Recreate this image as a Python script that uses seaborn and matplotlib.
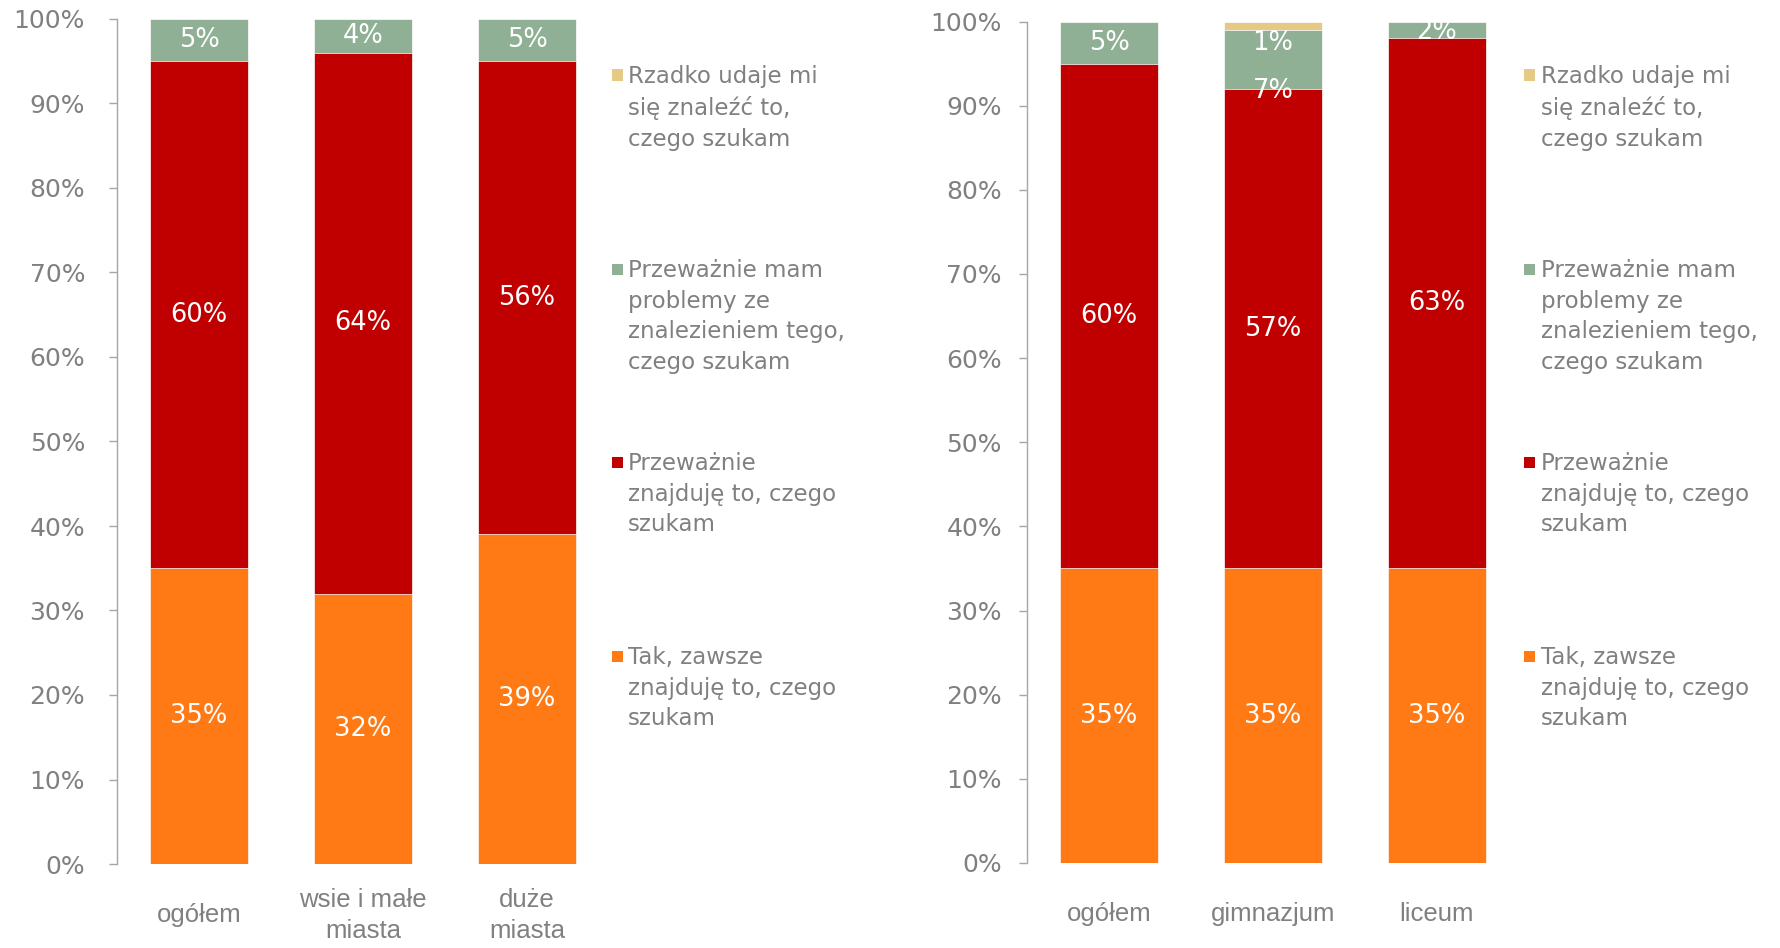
import matplotlib
matplotlib.use('Agg')
import matplotlib.pyplot as plt
from matplotlib.patches import Rectangle
import numpy as np
import pandas as pd
import seaborn as sns

# --- data -------------------------------------------------------------
series_names = [
    'Tak, zawsze\nznajduję to, czego\nszukam',
    'Przeważnie\nznajduję to, czego\nszukam',
    'Przeważnie mam\nproblemy ze\nznalezieniem tego,\nczego szukam',
    'Rzadko udaje mi\nsię znaleźć to,\nczego szukam',
]
series_colors = ['#FF7A15', '#C00000', '#8FB095', '#E5CA85']

left_categories = ['ogółem', 'wsie i małe\nmiasta', 'duże\nmiasta']
left_tak = [35, 32, 39]
left_znajduje = [60, 64, 56]
left_problemy = [5, 4, 5]
left_rzadko = [0, 0, 0]

right_categories = ['ogółem', 'gimnazjum', 'liceum']
right_tak = [35, 35, 35]
right_znajduje = [60, 57, 63]
right_problemy = [5, 7, 2]
right_rzadko = [0, 1, 0]

# label nudges (category index, layer index) -> shift in percentage points
right_label_nudge = {(1, 2): -3.7, (1, 3): -2.1, (2, 2): -0.3}

GRAY = '#808080'
AXIS_GRAY = '#A6A6A6'

sns.set_style('white')
plt.rcParams['font.family'] = ['DejaVu Sans']


def draw_panel(ax, categories, layers, tick_pad, nudge=None):
    nudge = nudge or {}
    cums = np.cumsum(np.array(layers, dtype=float), axis=0)
    # draw from the tallest cumulative layer down, lower segments cover upper
    for i in reversed(range(len(layers))):
        df = pd.DataFrame({'cat': categories, 'h': cums[i] / 100})
        sns.barplot(data=df, x='cat', y='h', order=categories,
                    color=series_colors[i], saturation=1, width=0.6,
                    errorbar=None, edgecolor='white', linewidth=0.5, ax=ax)

    # value labels in segment centres
    for i, vals in enumerate(layers):
        for j, v in enumerate(vals):
            if v <= 0:
                continue
            y = (cums[i][j] - v / 2 + nudge.get((j, i), 0)) / 100
            ax.text(j, y, f'{v}%', ha='center', va='center',
                    color='white', fontsize=18.5)

    ax.set_xlim(-0.5, 2.5)
    ax.set_ylim(0, 1)
    ax.set_yticks(np.arange(0, 1.01, 0.1))
    ax.set_yticklabels([f'{int(round(t * 100))}%' for t in np.arange(0, 1.01, 0.1)])
    ax.set_xlabel('')
    ax.set_ylabel('')

    for side in ['top', 'right', 'bottom']:
        ax.spines[side].set_visible(False)
    ax.spines['left'].set_color(AXIS_GRAY)
    ax.spines['left'].set_linewidth(1.0)

    ax.tick_params(axis='y', which='both', direction='out', length=6,
                   width=1, color=AXIS_GRAY, labelsize=18, labelcolor=GRAY,
                   pad=tick_pad, left=True)
    ax.tick_params(axis='x', length=0, pad=37, labelsize=18.5, labelcolor=GRAY)
    for lab in ax.get_xticklabels():
        lab.set_va('center')
        lab.set_family(['Liberation Sans', 'DejaVu Sans'])
        lab.set_linespacing(1.35)


def draw_legend(fig, marker_x, text_x):
    W, H = 1780, 948
    # marker centre rows in pixels from top, top entry first
    rows = [75, 269, 462, 656]
    for row, i in zip(rows, reversed(range(len(series_names)))):
        fig.patches.append(Rectangle((marker_x / W, 1 - (row + 5.5) / H),
                                     11 / W, 11 / H, transform=fig.transFigure,
                                     facecolor=series_colors[i], edgecolor='none'))
        fig.text(text_x / W, 1 - (row - 10) / H, series_names[i],
                 ha='left', va='top', fontsize=16.5, color=GRAY, linespacing=1.42)


fig = plt.figure(figsize=(17.8, 9.48), dpi=100)
ax_left = fig.add_axes([117 / 1780, 84 / 948, 492 / 1780, 845 / 948])
ax_right = fig.add_axes([1027 / 1780, 85 / 948, 492 / 1780, 841.5 / 948])

draw_panel(ax_left, left_categories,
           [left_tak, left_znajduje, left_problemy, left_rzadko], tick_pad=17)
draw_panel(ax_right, right_categories,
           [right_tak, right_znajduje, right_problemy, right_rzadko],
           tick_pad=12, nudge=right_label_nudge)

draw_legend(fig, 612, 628)
draw_legend(fig, 1524, 1541)

fig.savefig('out.png', dpi=100)
plt.close(fig)
